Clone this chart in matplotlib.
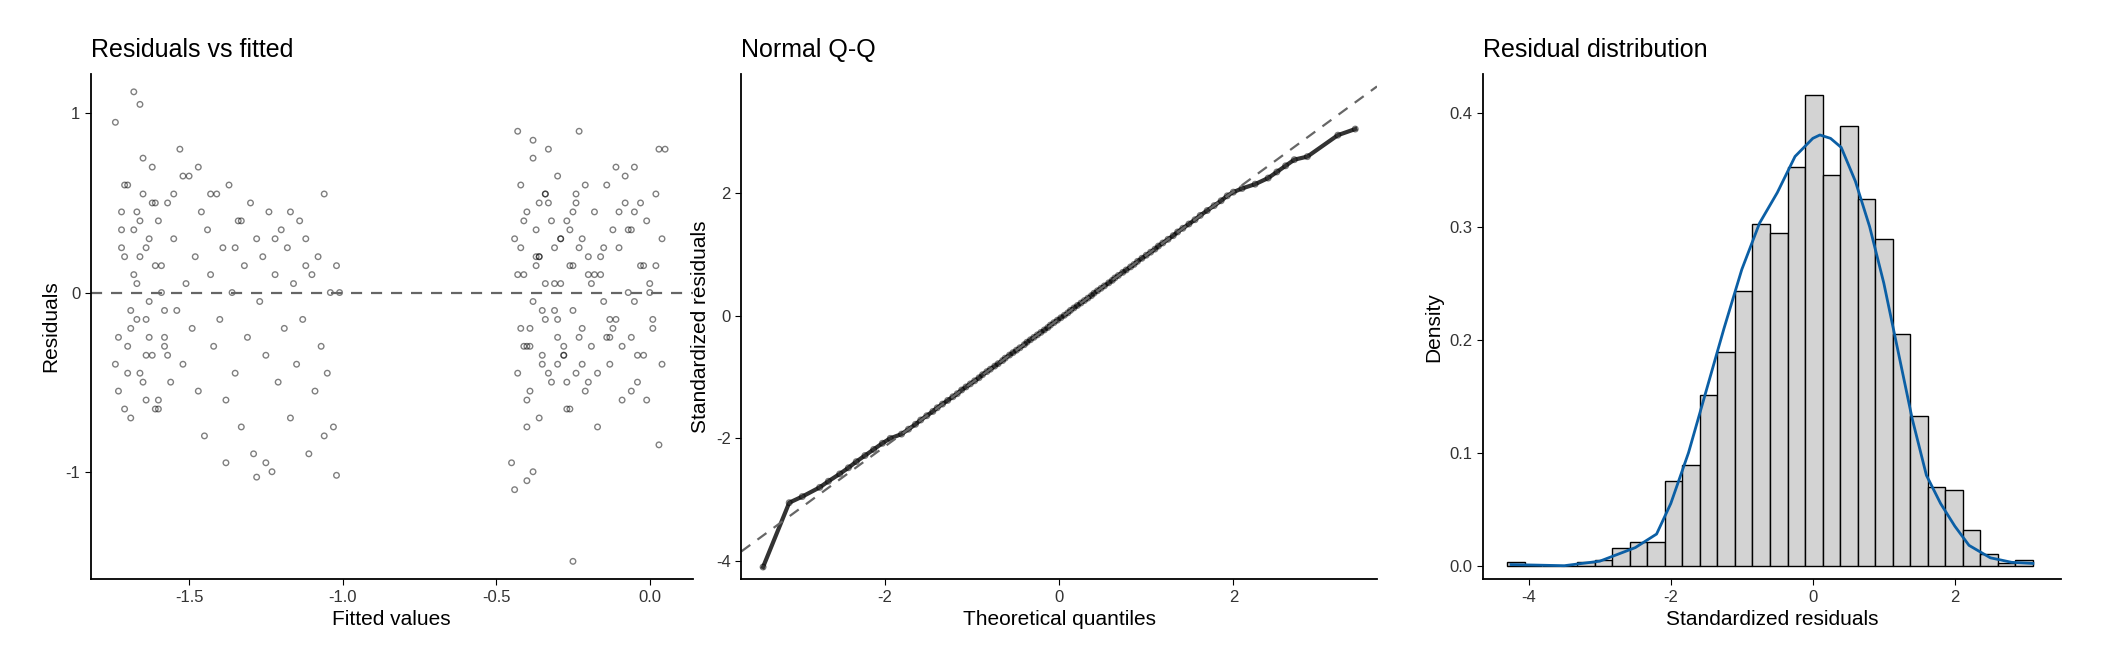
import matplotlib
matplotlib.use("Agg")
import matplotlib.pyplot as plt

plt.rcParams["font.family"] = ["Liberation Sans", "DejaVu Sans"]
plt.rcParams["axes.unicode_minus"] = False

# residuals vs fitted (a thinned sample)
fitted = [-1.74, -1.73, -1.72, -1.71, -1.70, -1.70, -1.69, -1.68, -1.68, -1.67, -1.66, -1.66, -1.65, -1.64, -1.64, -1.63,
          -1.62, -1.62, -1.61, -1.60, -1.60, -1.59, -1.58, -1.57, -1.56, -1.55, -1.54, -1.53, -1.52, -1.51, -1.50, -1.49,
          -1.48, -1.47, -1.46, -1.45, -1.44, -1.43, -1.42, -1.41, -1.40, -1.39, -1.38, -1.37, -1.36, -1.35, -1.34, -1.33,
          -1.32, -1.31, -1.30, -1.29, -1.28, -1.27, -1.26, -1.25, -1.24, -1.23, -1.22, -1.21, -1.20, -1.19, -1.18, -1.17,
          -1.16, -1.15, -1.14, -1.13, -1.12, -1.11, -1.10, -1.09, -1.08, -1.07, -1.06, -1.05, -1.04, -1.03, -1.02, -1.01,
          -1.73, -1.71, -1.69, -1.67, -1.65, -1.63, -1.61, -1.59, -1.57, -1.55, -1.72, -1.70, -1.66, -1.64, -1.62, -1.58,
          -1.68, -1.65, -1.60, -1.52, -1.47, -1.43, -1.38, -1.33, -1.28, -1.22, -1.17, -1.12, -1.06, -1.02, -1.25, -1.35,
          -0.45, -0.44, -0.43, -0.42, -0.42, -0.41, -0.40, -0.40, -0.39, -0.38, -0.38, -0.37, -0.36, -0.36, -0.35, -0.34,
          -0.34, -0.33, -0.32, -0.31, -0.30, -0.30, -0.29, -0.28, -0.27, -0.26, -0.26, -0.25, -0.24, -0.24, -0.23, -0.22,
          -0.22, -0.21, -0.20, -0.19, -0.18, -0.17, -0.16, -0.15, -0.14, -0.13, -0.12, -0.11, -0.10, -0.09, -0.08, -0.07,
          -0.06, -0.05, -0.04, -0.03, -0.02, -0.01, 0.00, 0.01, 0.02, 0.03, 0.04, 0.05, -0.44, -0.41, -0.39, -0.37,
          -0.35, -0.33, -0.31, -0.29, -0.27, -0.25, -0.23, -0.21, -0.19, -0.17, -0.15, -0.13, -0.11, -0.09, -0.07, -0.05,
          -0.03, -0.01, 0.02, 0.04, -0.43, -0.40, -0.36, -0.32, -0.28, -0.24, -0.20, -0.16, -0.12, -0.08, -0.04, 0.00,
          -0.42, -0.38, -0.34, -0.30, -0.26, -0.22, -0.18, -0.14, -0.10, -0.06, -0.02, 0.03, -0.25, -0.40, -0.38, -0.05,
          -1.74, -1.72, -1.69, -1.67, -1.64, -1.61, -1.58, -1.71, -1.66, -1.63, -0.41, -0.37, -0.33, -0.29, -0.35, -0.31,
          -0.27, -0.23, -0.39, -0.43, -0.36, -0.28, -0.20, -0.13, -0.06, 0.01, -0.30, -0.25, -0.34, -0.40]
resid = [0.95, -0.55, 0.45, 0.20, -0.30, 0.60, -0.70, 0.10, 0.35, -0.15, 1.05, -0.45, 0.55, -0.60, 0.25, -0.05,
         0.70, -0.35, 0.15, -0.65, 0.40, 0.00, -0.25, 0.50, -0.50, 0.30, -0.10, 0.80, -0.40, 0.05, 0.65, -0.20,
         0.20, -0.55, 0.45, -0.80, 0.35, 0.10, -0.30, 0.55, -0.15, 0.25, -0.60, 0.60, 0.00, -0.45, 0.40, -0.75,
         0.15, -0.25, 0.50, -0.90, 0.30, -0.05, 0.20, -0.35, 0.45, -1.00, 0.10, -0.50, 0.35, -0.20, 0.25, -0.70,
         0.05, -0.40, 0.40, -0.15, 0.30, -0.90, 0.10, -0.55, 0.20, -0.30, 0.55, -0.45, 0.00, -0.75, 0.15, 0.00,
         -0.25, 0.60, -0.10, 0.45, -0.50, 0.30, -0.65, 0.15, -0.35, 0.55, 0.35, -0.45, 0.20, -0.15, 0.50, -0.30,
         1.12, 0.75, -0.60, 0.65, 0.70, 0.55, -0.95, 0.40, -1.03, 0.30, 0.45, 0.15, -0.80, -1.02, -0.95, 0.25,
         -0.95, 0.30, -0.45, 0.60, -0.20, 0.10, -0.60, 0.45, -0.30, 0.75, -0.05, 0.35, -0.70, 0.20, -0.40, 0.55,
         -0.15, 0.80, -0.50, 0.25, -0.25, 0.65, 0.05, -0.35, 0.40, -0.65, 0.15, -0.10, 0.50, -0.45, 0.90, -0.20,
         0.30, -0.55, 0.10, -0.30, 0.45, -0.75, 0.20, -0.05, 0.60, -0.40, 0.35, -0.15, 0.25, -0.60, 0.50, 0.00,
         -0.25, 0.70, -0.50, 0.15, -0.35, 0.40, 0.05, -0.20, 0.55, -0.85, 0.30, 0.80, -1.10, 0.40, -0.55, 0.20,
         -0.35, 0.50, -0.10, 0.30, -0.65, 0.45, -0.25, 0.60, 0.05, -0.45, 0.25, -0.15, 0.70, -0.30, 0.35, -0.05,
         0.50, -0.60, 0.15, -0.40, 0.90, -0.75, 0.20, 0.40, -0.30, 0.55, -0.50, 0.10, -0.20, 0.65, -0.35, 0.00,
         0.25, -1.00, 0.55, -0.15, 0.35, -0.40, 0.10, -0.25, 0.45, -0.55, 0.15, 0.80, -1.50, -1.05, 0.85, 0.45,
         -0.40, 0.25, -0.20, 0.05, -0.35, 0.50, -0.10, -0.65, 0.40, -0.25, -0.30, 0.15, -0.45, 0.30, -0.10, 0.05,
         -0.50, 0.25, -0.20, 0.10, 0.50, -0.35, 0.20, -0.25, 0.35, -0.15, -0.40, 0.15, 0.05, -0.30]

# Q-Q panel: theoretical quantile and standardized residual pairs
theo_q = [-3.40, -3.10, -2.95, -2.75, -2.65, -2.52, -2.42, -2.33, -2.23, -2.13, -2.03, -1.94, -1.81, -1.73, -1.65,
          -1.59, -1.52, -1.45, -1.40, -1.34, -1.28, -1.22, -1.17, -1.12, -1.07, -1.02, -0.97, -0.92, -0.88, -0.83,
          -0.79, -0.74, -0.70, -0.65, -0.62, -0.57, -0.53, -0.49, -0.45, -0.40, -0.37, -0.33, -0.29, -0.25, -0.21,
          -0.17, -0.13, -0.10, -0.06, -0.02, 0.02, 0.06, 0.10, 0.13, 0.17, 0.21, 0.25, 0.29, 0.33, 0.37,
          0.40, 0.44, 0.48, 0.52, 0.57, 0.61, 0.64, 0.68, 0.73, 0.77, 0.82, 0.86, 0.90, 0.95, 1.00,
          1.05, 1.10, 1.14, 1.19, 1.25, 1.31, 1.36, 1.42, 1.49, 1.56, 1.62, 1.70, 1.78, 1.86, 1.93,
          2.00, 2.10, 2.25, 2.40, 2.50, 2.60, 2.70, 2.85, 3.20, 3.40]
std_resid = [-4.10, -3.05, -2.95, -2.80, -2.70, -2.58, -2.48, -2.38, -2.28, -2.18, -2.08, -2.00, -1.93, -1.85, -1.77,
             -1.70, -1.63, -1.56, -1.50, -1.44, -1.38, -1.32, -1.27, -1.21, -1.16, -1.11, -1.06, -1.01, -0.96, -0.91,
             -0.87, -0.82, -0.78, -0.73, -0.69, -0.64, -0.60, -0.56, -0.52, -0.47, -0.43, -0.39, -0.35, -0.31, -0.27,
             -0.23, -0.19, -0.15, -0.11, -0.07, -0.03, 0.01, 0.05, 0.09, 0.13, 0.17, 0.21, 0.25, 0.29, 0.33,
             0.37, 0.41, 0.45, 0.49, 0.54, 0.58, 0.62, 0.66, 0.71, 0.75, 0.80, 0.84, 0.89, 0.94, 0.99,
             1.04, 1.09, 1.14, 1.19, 1.25, 1.31, 1.37, 1.43, 1.50, 1.57, 1.64, 1.72, 1.80, 1.88, 1.96,
             2.02, 2.08, 2.15, 2.25, 2.35, 2.45, 2.55, 2.60, 2.95, 3.05]

# histogram of standardized residuals
bin_left = -4.305
bin_width = 0.2468
bar_heights = [0.003, 0.0, 0.0, 0.0, 0.003, 0.005, 0.016, 0.021, 0.021, 0.075, 0.089, 0.151, 0.189, 0.243, 0.302,
               0.294, 0.353, 0.416, 0.346, 0.389, 0.324, 0.289, 0.205, 0.132, 0.070, 0.067, 0.032, 0.010, 0.002, 0.005]
kde_x = [-4.25, -3.5, -3.0, -2.5, -2.2, -2.0, -1.75, -1.5, -1.25, -1.0, -0.75, -0.5, -0.25, 0.0, 0.1, 0.25, 0.4,
         0.6, 0.8, 1.0, 1.2, 1.4, 1.6, 1.8, 2.0, 2.2, 2.5, 2.8, 3.1]
kde_y = [0.001, 0.0, 0.004, 0.016, 0.028, 0.055, 0.100, 0.155, 0.210, 0.262, 0.303, 0.330, 0.362, 0.378, 0.381,
         0.378, 0.370, 0.340, 0.300, 0.250, 0.190, 0.130, 0.080, 0.055, 0.035, 0.018, 0.007, 0.003, 0.002]

fig = plt.figure(figsize=(21.12, 6.72), dpi=100)
ax1 = fig.add_axes([0.043, 0.138, 0.285, 0.752])
ax2 = fig.add_axes([0.351, 0.138, 0.301, 0.752])
ax3 = fig.add_axes([0.702, 0.138, 0.274, 0.752])

for ax in (ax1, ax2, ax3):
    ax.spines["top"].set_visible(False)
    ax.spines["right"].set_visible(False)
    ax.spines["left"].set_linewidth(1.3)
    ax.spines["bottom"].set_linewidth(1.3)
    ax.tick_params(labelsize=12, labelcolor="#333333", color="black", length=4)

ax1.scatter(fitted, resid, s=16, facecolors="none", edgecolors="black", alpha=0.5, linewidths=1)
ax1.axhline(0, color="#666666", ls=(0, (5, 4)), lw=1.6)
ax1.set_xlim(-1.82, 0.14)
ax1.set_ylim(-1.6, 1.22)
ax1.set_xticks([-1.5, -1.0, -0.5, 0.0])
ax1.set_xticklabels(["-1.5", "-1.0", "-0.5", "0.0"])
ax1.set_yticks([-1, 0, 1])
ax1.set_xlabel("Fitted values", fontsize=15)
ax1.set_ylabel("Residuals", fontsize=15)
ax1.set_title("Residuals vs fitted", fontsize=18, loc="left", pad=12)

ax2.plot(theo_q, std_resid, color="black", lw=3, alpha=0.8)
ax2.scatter(theo_q, std_resid, s=16, facecolors="none", edgecolors="black", alpha=0.5, linewidths=1)
ax2.axline((0, -0.05), slope=1.04, color="#666666", ls=(0, (5, 4)), lw=1.6)
ax2.set_xlim(-3.65, 3.65)
ax2.set_ylim(-4.3, 3.95)
ax2.set_xticks([-2, 0, 2])
ax2.set_yticks([-4, -2, 0, 2])
ax2.set_xlabel("Theoretical quantiles", fontsize=15)
ax2.set_ylabel("Standardized residuals", fontsize=15)
ax2.set_title("Normal Q-Q", fontsize=18, loc="left", pad=12)

lefts = [bin_left + i * bin_width for i in range(len(bar_heights))]
ax3.bar(lefts, bar_heights, width=bin_width, align="edge", color="#d3d3d3", edgecolor="black", lw=1)
ax3.plot(kde_x, kde_y, color="#0b5fa5", lw=2)
ax3.set_xlim(-4.65, 3.5)
ax3.set_ylim(-0.012, 0.435)
ax3.set_xticks([-4, -2, 0, 2])
ax3.set_yticks([0.0, 0.1, 0.2, 0.3, 0.4])
ax3.set_yticklabels(["0.0", "0.1", "0.2", "0.3", "0.4"])
ax3.set_xlabel("Standardized residuals", fontsize=15)
ax3.set_ylabel("Density", fontsize=15)
ax3.set_title("Residual distribution", fontsize=18, loc="left", pad=12)

fig.savefig("out.png", dpi=100)
